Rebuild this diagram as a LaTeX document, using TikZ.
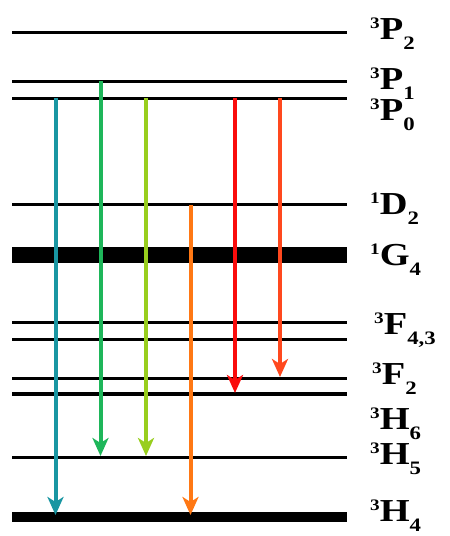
\documentclass[tikz,border=0pt]{standalone}
\usepackage{fontspec}
\setmainfont{Liberation Serif}
\usetikzlibrary{arrows.meta}
\definecolor{cteal}{RGB}{25,150,162}
\definecolor{cgreen}{RGB}{30,182,90}
\definecolor{cyg}{RGB}{152,206,30}
\definecolor{corange}{RGB}{255,120,20}
\definecolor{cred}{RGB}{250,12,12}
\definecolor{cored}{RGB}{255,72,30}
\newcommand\lvlab[3]{\scalebox{1.2}[1]{\bfseries\raisebox{10.5pt}{\fontsize{16}{16}\selectfont #1}\fontsize{32}{32}\selectfont #2\raisebox{-10.5pt}{\fontsize{19}{19}\selectfont #3}}}
\tikzset{
  lvl/.style={line width=3pt},
  lab/.style={anchor=base west,inner sep=0pt},
  trans/.style={line width=4pt,-{Stealth[length=18pt,width=16pt,inset=5pt]}},
}
\begin{document}
\begin{tikzpicture}[x=1pt,y=-1pt]
\useasboundingbox (0,0) rectangle (450,536);
% levels
\draw[lvl] (12,32) coordinate (p2l) -- (347,32) coordinate (p2r);
\draw[lvl] (12,81) coordinate (p1l) -- (347,81) coordinate (p1r);
\draw[lvl] (12,98) coordinate (p0l) -- (347,98) coordinate (p0r);
\draw[lvl] (12,204) coordinate (d2l) -- (347,204) coordinate (d2r);
\draw[lvl,line width=16pt] (12,255) coordinate (g4l) -- (347,255) coordinate (g4r);
\draw[lvl] (12,322) coordinate (f4l) -- (347,322) coordinate (f4r);
\draw[lvl] (12,339) coordinate (f3l) -- (347,339) coordinate (f3r);
\draw[lvl] (12,378) coordinate (f2l) -- (347,378) coordinate (f2r);
\draw[lvl,line width=4.5pt] (12,394) coordinate (h6l) -- (347,394) coordinate (h6r);
\draw[lvl] (12,457) coordinate (h5l) -- (347,457) coordinate (h5r);
\draw[lvl,line width=10pt] (12,517) coordinate (h4l) -- (347,517) coordinate (h4r);
% labels
\node[lab] (lp2) at (370,39) {\lvlab{3}{P}{2}};
\node[lab] (lp1) at (370,89) {\lvlab{3}{P}{1}};
\node[lab] (lp0) at (370,120) {\lvlab{3}{P}{0}};
\node[lab] (ld2) at (370,214) {\lvlab{1}{D}{2}};
\node[lab] (lg4) at (370,265) {\lvlab{1}{G}{4}};
\node[lab] (lf43) at (374,334) {\lvlab{3}{F}{4,3}};
\node[lab] (lf2) at (372,384) {\lvlab{3}{F}{2}};
\node[lab] (lh6) at (370,429) {\lvlab{3}{H}{6}};
\node[lab] (lh5) at (370,464) {\lvlab{3}{H}{5}};
\node[lab] (lh4) at (370,521) {\lvlab{3}{H}{4}};
% transitions
\coordinate (a1s) at (55.5,98);  \coordinate (a1e) at (55.5,515);
\coordinate (a2s) at (100.5,81); \coordinate (a2e) at (100.5,456);
\coordinate (a3s) at (146,98);   \coordinate (a3e) at (146,456);
\coordinate (a4s) at (190.5,205);\coordinate (a4e) at (190.5,515);
\coordinate (a5s) at (235,98);   \coordinate (a5e) at (235,393);
\coordinate (a6s) at (280,98);   \coordinate (a6e) at (280,377);
\draw[trans,cteal] (a1s) -- (a1e);
\draw[trans,cgreen] (a2s) -- (a2e);
\draw[trans,cyg] (a3s) -- (a3e);
\draw[trans,corange] (a4s) -- (a4e);
\draw[trans,cred] (a5s) -- (a5e);
\draw[trans,cored] (a6s) -- (a6e);
\end{tikzpicture}
\end{document}
